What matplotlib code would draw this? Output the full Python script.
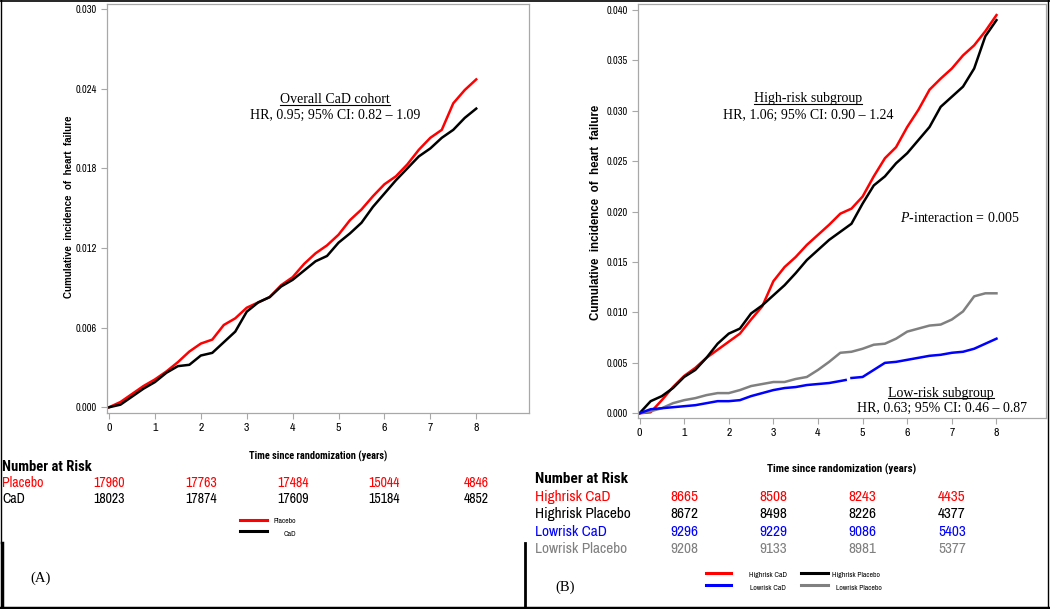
import numpy as np
import matplotlib
matplotlib.use("Agg")
import matplotlib.pyplot as plt
from matplotlib import font_manager as fm
from matplotlib.lines import Line2D
from matplotlib.transforms import blended_transform_factory

# ---- data ----
years = [0, 0.25, 0.5, 0.75, 1, 1.25, 1.5, 1.75, 2, 2.25, 2.5, 2.75, 3, 3.25, 3.5,
         3.75, 4, 4.25, 4.5, 4.75, 5, 5.25, 5.5, 5.75, 6, 6.25, 6.5, 6.75, 7, 7.25,
         7.5, 7.75, 8]

# Panel A: overall cohort
placebo = [0, 0.0004, 0.0010, 0.0016, 0.0021, 0.0027, 0.0034, 0.0042, 0.0048, 0.0051,
           0.0062, 0.0067, 0.0075, 0.0079, 0.0083, 0.0092, 0.0098, 0.0108, 0.0116,
           0.0122, 0.0130, 0.0141, 0.0149, 0.0159, 0.0168, 0.0174, 0.0183, 0.0194,
           0.0203, 0.0209, 0.0229, 0.0239, 0.0247]
cad = [0, 0.0002, 0.0008, 0.0014, 0.0019, 0.0026, 0.0031, 0.0032, 0.0039, 0.0041,
       0.0049, 0.0057, 0.0072, 0.0079, 0.0083, 0.0091, 0.0096, 0.0103, 0.0110,
       0.0114, 0.0124, 0.0131, 0.0139, 0.0151, 0.0161, 0.0171, 0.0180, 0.0189,
       0.0195, 0.0203, 0.0209, 0.0218, 0.0225]

# Panel B: risk subgroups
high_cad = [0, 0.0001, 0.0013, 0.0026, 0.0037, 0.0045, 0.0055, 0.0063, 0.0071, 0.0079,
            0.0093, 0.0106, 0.0131, 0.0145, 0.0155, 0.0167, 0.0177, 0.0187, 0.0198,
            0.0203, 0.0215, 0.0235, 0.0253, 0.0264, 0.0284, 0.0301, 0.0321, 0.0332,
            0.0342, 0.0355, 0.0365, 0.0379, 0.0395]
high_placebo = [0, 0.0012, 0.0017, 0.0025, 0.0036, 0.0043, 0.0055, 0.0069, 0.0079,
                0.0084, 0.0099, 0.0107, 0.0117, 0.0127, 0.0139, 0.0152, 0.0162, 0.0172,
                0.0180, 0.0188, 0.0208, 0.0226, 0.0235, 0.0248, 0.0258, 0.0271, 0.0284,
                0.0304, 0.0314, 0.0324, 0.0342, 0.0374, 0.0390]
low_placebo = [0, 0.0002, 0.0005, 0.0010, 0.0013, 0.0015, 0.0018, 0.0020, 0.0020,
               0.0023, 0.0027, 0.0029, 0.0031, 0.0031, 0.0034, 0.0036, 0.0043, 0.0051,
               0.0060, 0.0061, 0.0064, 0.0068, 0.0069, 0.0074, 0.0081, 0.0084, 0.0087,
               0.0088, 0.0093, 0.0101, 0.0116, 0.0119, 0.0119]
# low-risk CaD line has a short gap near 4.7 years
low_cad_years = [0, 0.25, 0.5, 0.75, 1, 1.25, 1.5, 1.75, 2, 2.25, 2.5, 2.75, 3, 3.25,
                 3.5, 3.75, 4, 4.25, 4.5, 4.62, 4.7, 4.75, 5, 5.25, 5.5, 5.75, 6, 6.25,
                 6.5, 6.75, 7, 7.25, 7.5, 7.75, 8]
low_cad = [0, 0.0004, 0.0005, 0.0006, 0.0007, 0.0008, 0.0010, 0.0012, 0.0012, 0.0013,
           0.0017, 0.0020, 0.0023, 0.0025, 0.0026, 0.0028, 0.0029, 0.0030, 0.0032,
           0.0033, np.nan, 0.0035, 0.0036, 0.0043, 0.0050, 0.0051, 0.0053, 0.0055,
           0.0057, 0.0058, 0.0060, 0.0061, 0.0064, 0.0069, 0.0074]

# numbers at risk
risk_years_a = [0, 2, 4, 6, 8]
risk_placebo = [17960, 17763, 17484, 15044, 4846]
risk_cad = [18023, 17874, 17609, 15184, 4852]

risk_years_b = [1, 3, 5, 7]
risk_high_cad = [8665, 8508, 8243, 4435]
risk_high_placebo = [8672, 8498, 8226, 4377]
risk_low_cad = [9296, 9229, 9086, 5403]
risk_low_placebo = [9208, 9133, 8981, 5377]

RED, BLACK, BLUE, GRAY = "#ff0000", "#000000", "#0000ff", "#808080"
SPINE = "#a8a8a8"

# narrow sans for the SAS-style labels, pick the first one that exists
NARROW_CANDS = ["Liberation Sans Narrow", "Arial Narrow", "Archivo Narrow",
                "Roboto Condensed", "Asap Condensed", "Barlow Condensed"]


def _weight(f):
    w = f.weight
    if isinstance(w, str):
        return 700 if "bold" in w.lower() else 400
    return int(w)


fonts = fm.fontManager.ttflist
names = {f.name for f in fonts}
bold_names = {f.name for f in fonts if _weight(f) >= 700 and f.style == "normal"}
NARROW = next((c for c in NARROW_CANDS if c in names), "Liberation Sans")
NARROW_BOLD = next((c for c in NARROW_CANDS if c in bold_names), "Liberation Sans")
SERIF = "Liberation Serif"
plt.rcParams["mathtext.fontset"] = "custom"
plt.rcParams["mathtext.rm"] = SERIF
plt.rcParams["mathtext.it"] = SERIF + ":italic"

W, H = 1050, 609
fig = plt.figure(figsize=(W / 100, H / 100), dpi=100)


def fx(px):
    return px / W


def fy(py):
    return 1 - py / H


def style_axes(ax, yticks, lblsize, xlsize):
    for s in ax.spines.values():
        s.set_color(SPINE)
        s.set_linewidth(0.9)
    ax.tick_params(colors=SPINE, length=4, width=0.8, labelcolor="black")
    ax.set_xticks(range(0, 9))
    ax.set_yticks(yticks)
    ax.set_yticklabels(["%.3f" % v for v in yticks], fontsize=7.5, family=NARROW)
    ax.set_xticklabels([str(i) for i in range(0, 9)], fontsize=8.5, family=NARROW)
    ax.set_xlabel("Time since randomization (years)", fontsize=xlsize,
                  family=NARROW_BOLD, fontweight="bold")
    ax.set_ylabel("Cumulative  incidence  of  heart  failure", fontsize=lblsize,
                  fontweight="bold", family="Liberation Sans")


# ---- panel A ----
axA = fig.add_axes([fx(107), fy(413), fx(529 - 107), (413 - 4) / H])
axA.plot(years, placebo, color=RED, lw=1.8)
axA.plot(years, cad, color=BLACK, lw=1.8)
axA.set_xlim(-0.044, 9.15)
axA.set_ylim(-0.00043, 0.03038)
style_axes(axA, [0, 0.006, 0.012, 0.018, 0.024, 0.030], 7, 7.5)
axA.xaxis.set_label_coords(fx(318), fy(451), transform=fig.transFigure)
axA.yaxis.set_label_coords(fx(74), fy(207), transform=fig.transFigure)

# ---- panel B ----
axB = fig.add_axes([fx(638), fy(418), fx(1046 - 638), (418 - 4) / H])
axB.plot(years, high_cad, color=RED, lw=1.8)
axB.plot(years, high_placebo, color=BLACK, lw=1.8)
axB.plot(years, low_placebo, color=GRAY, lw=1.8)
axB.plot(low_cad_years, low_cad, color=BLUE, lw=1.8)
axB.set_xlim(-0.034, 9.11)
axB.set_ylim(-0.00047, 0.0406)
style_axes(axB, [0, 0.005, 0.010, 0.015, 0.020, 0.025, 0.030, 0.035, 0.040], 8.3, 8)
axB.xaxis.set_label_coords(fx(842), fy(464), transform=fig.transFigure)
axB.yaxis.set_label_coords(fx(602), fy(212), transform=fig.transFigure)

# ---- annotations ----
FS = 10
underlined = []
underlined.append(axA.text(4.92, 0.0232, "Overall CaD cohort", ha="center", va="center",
                           fontsize=FS, family=SERIF))
axA.text(4.92, 0.0220, "HR, 0.95; 95% CI: 0.82 \u2013 1.09", ha="center", va="center",
         fontsize=FS, family=SERIF)

underlined.append(axB.text(3.78, 0.03118, "High-risk subgroup", ha="center", va="center",
                           fontsize=FS, family=SERIF))
axB.text(3.78, 0.02959, "HR, 1.06; 95% CI: 0.90 \u2013 1.24", ha="center", va="center",
         fontsize=FS, family=SERIF)
axB.text(7.19, 0.01937, r"$\mathit{P}$-interaction = 0.005", ha="center", va="center",
         fontsize=FS, family=SERIF)
underlined.append(axB.text(6.76, 0.00201, "Low-risk subgroup", ha="center", va="center",
                           fontsize=FS, family=SERIF))
axB.text(6.78, 0.00045, "HR, 0.63; 95% CI: 0.46 \u2013 0.87", ha="center", va="center",
         fontsize=FS, family=SERIF)

# ---- numbers at risk, panel A ----
trA = blended_transform_factory(axA.transData, fig.transFigure)
fig.text(fx(2), fy(467), "Number at Risk", fontsize=10.5, fontweight="bold",
         family=NARROW_BOLD, va="center")
fig.text(fx(2), fy(483), "Placebo", fontsize=10, color=RED, family=NARROW, va="center")
fig.text(fx(2), fy(499), "CaD", fontsize=10, color=BLACK, family=NARROW, va="center")
for t, p, c in zip(risk_years_a, risk_placebo, risk_cad):
    axA.text(t, fy(483), str(p), transform=trA, ha="center", va="center",
             fontsize=10, color=RED, family=NARROW)
    axA.text(t, fy(499), str(c), transform=trA, ha="center", va="center",
             fontsize=10, color=BLACK, family=NARROW)

# ---- numbers at risk, panel B ----
trB = blended_transform_factory(axB.transData, fig.transFigure)
fig.text(fx(535), fy(479), "Number at Risk", fontsize=11, fontweight="bold",
         family=NARROW_BOLD, va="center")
rows_b = [("Highrisk CaD", risk_high_cad, RED, 497),
          ("Highrisk Placebo", risk_high_placebo, BLACK, 514),
          ("Lowrisk CaD", risk_low_cad, BLUE, 532),
          ("Lowrisk Placebo", risk_low_placebo, GRAY, 549)]
for label, vals, col, py in rows_b:
    fig.text(fx(535), fy(py), label, fontsize=11, color=col, family=NARROW, va="center")
    for t, v in zip(risk_years_b, vals):
        axB.text(t, fy(py), str(v), transform=trB, ha="center", va="center",
                 fontsize=11, color=col, family=NARROW)


# ---- legends (small figure-level keys, as in the SAS output) ----
def key(x0, x1, py, col, label, tx, tpy):
    fig.add_artist(Line2D([fx(x0), fx(x1)], [fy(py), fy(py)], color=col, lw=2.2))
    fig.text(fx(tx), fy(tpy), label, fontsize=5.5, family=NARROW, va="center")


key(240, 267, 520, RED, "Placebo", 274, 521)
key(240, 267, 531, BLACK, "CaD", 284, 534)
key(706, 731, 573, RED, "Highrisk CaD", 749, 575)
key(706, 731, 585, BLUE, "Lowrisk CaD", 750, 588)
key(801, 828, 573, BLACK, "Highrisk Placebo", 832, 575)
key(801, 828, 585, GRAY, "Lowrisk Placebo", 836, 588)

fig.text(fx(30), fy(578), "(A)", fontsize=10.5, family=SERIF, va="center")
fig.text(fx(555), fy(587), "(B)", fontsize=10.5, family=SERIF, va="center")


# ---- outer frame lines ----
def seg(x0, y0, x1, y1, lw):
    fig.add_artist(Line2D([fx(x0), fx(x1)], [fy(y0), fy(y1)], color="black", lw=lw))


seg(0, 0.8, W, 0.8, 1.2)
seg(1, 0, 1, 543, 1.0)
seg(1.5, 543, 1.5, H, 2.5)
seg(0, 607.5, W, 607.5, 2.5)
seg(525, 543, 525, H, 2.0)
seg(1048, 0, 1048, H, 1.0)

# ---- underline the subgroup titles ----
fig.canvas.draw()
renderer = fig.canvas.get_renderer()
inv = fig.transFigure.inverted()
for txt in underlined:
    bb = txt.get_window_extent(renderer)
    (x0, y0), (x1, _) = inv.transform([[bb.x0, bb.y0], [bb.x1, bb.y1]])
    fig.add_artist(Line2D([x0, x1], [y0 + 0.002, y0 + 0.002], color="black", lw=0.8))

fig.savefig("out.png", dpi=100)
